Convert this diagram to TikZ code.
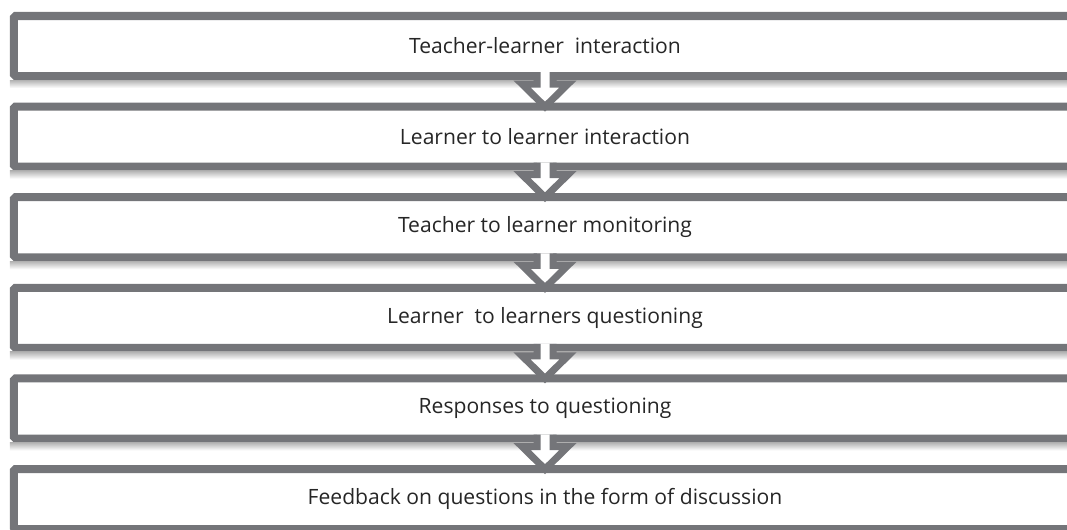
\documentclass[tikz,border=0pt]{standalone}
\usepackage{fontspec}
\setmainfont{Open Sans}
\usepackage{xcolor}
\usepackage{tikz}
\usetikzlibrary{positioning,calc}

\definecolor{boxgray}{RGB}{116,117,121}
\definecolor{txtgray}{RGB}{38,38,38}

\begin{document}
\begin{tikzpicture}[x=0.025cm,y=-0.025cm,
  stagebox/.style={draw=boxgray,fill=white,line width=0.2cm,rounded corners=0.04cm,
    minimum width=26.55cm,minimum height=1.5cm,inner sep=0pt,outer sep=0pt,
    font=\fontsize{15}{18}\selectfont,text=txtgray},
  stagearrow/.style={draw=boxgray,fill=white,line width=0.175cm},
  stageshadow/.style={top color=black!30,bottom color=white,draw=none},
  node distance=0.765cm]
  \clip (0,0) rectangle (1067,529);
  \node[stagebox] (s1) at (545,46) {Teacher-learner\ \ interaction};
  \node[stagebox,below=of s1] (s2) {Learner to learner interaction};
  \node[stagebox,below=of s2] (s3) {Teacher to learner monitoring};
  \node[stagebox,below=of s3] (s4) {Learner\ \ to learners questioning};
  \node[stagebox,below=of s4] (s5) {Responses to questioning};
  \node[stagebox,below=of s5] (s6) {Feedback on questions in the form of discussion};
  % soft shadow under each box
  \shade[stageshadow] ($(s1.south west)+(-4,4)$) rectangle ($(s1.south east)+(4,12)$);
  \shade[stageshadow] ($(s2.south west)+(-4,4)$) rectangle ($(s2.south east)+(4,12)$);
  \shade[stageshadow] ($(s3.south west)+(-4,4)$) rectangle ($(s3.south east)+(4,12)$);
  \shade[stageshadow] ($(s4.south west)+(-4,4)$) rectangle ($(s4.south east)+(4,12)$);
  \shade[stageshadow] ($(s5.south west)+(-4,4)$) rectangle ($(s5.south east)+(4,12)$);
  % chevron arrows between the boxes
  \filldraw[stagearrow] ($(s1.south)+(-8,-4)$) -- ++(0,12) -- ++(-15,0) -- (s2.north)
    -- ($(s1.south)+(23,8)$) -- ++(-15,0) -- ++(0,-12);
  \filldraw[stagearrow] ($(s2.south)+(-8,-4)$) -- ++(0,12) -- ++(-15,0) -- (s3.north)
    -- ($(s2.south)+(23,8)$) -- ++(-15,0) -- ++(0,-12);
  \filldraw[stagearrow] ($(s3.south)+(-8,-4)$) -- ++(0,12) -- ++(-15,0) -- (s4.north)
    -- ($(s3.south)+(23,8)$) -- ++(-15,0) -- ++(0,-12);
  \filldraw[stagearrow] ($(s4.south)+(-8,-4)$) -- ++(0,12) -- ++(-15,0) -- (s5.north)
    -- ($(s4.south)+(23,8)$) -- ++(-15,0) -- ++(0,-12);
  \filldraw[stagearrow] ($(s5.south)+(-8,-4)$) -- ++(0,12) -- ++(-15,0) -- (s6.north)
    -- ($(s5.south)+(23,8)$) -- ++(-15,0) -- ++(0,-12);
\end{tikzpicture}
\end{document}
